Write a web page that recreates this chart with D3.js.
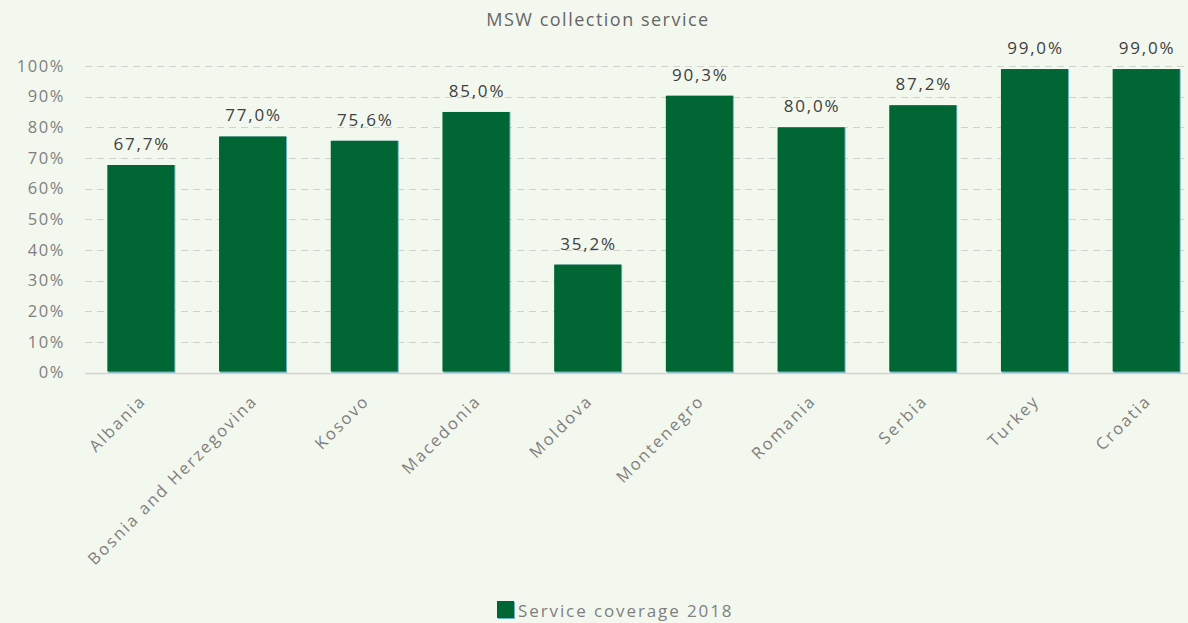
<!DOCTYPE html>
<html>
<head>
<meta charset="utf-8">
<script src="https://cdn.jsdelivr.net/npm/d3@7"></script>
<style>
  html, body { margin: 0; padding: 0; background: #f3f8ef; }
  svg { display: block; }
</style>
</head>
<body>
<svg id="chart" width="1188" height="623"></svg>
<script>
// Municipal solid waste collection coverage, 2018
const countries = ["Albania", "Bosnia and Herzegovina", "Kosovo", "Macedonia", "Moldova",
                   "Montenegro", "Romania", "Serbia", "Turkey", "Croatia"];
const coverage = [67.7, 77.0, 75.6, 85.0, 35.2, 90.3, 80.0, 87.2, 99.0, 99.0];
const yTicks = [0, 10, 20, 30, 40, 50, 60, 70, 80, 90, 100];
const title = "MSW collection service";
const seriesName = "Service coverage 2018";

const svg = d3.select("#chart");
const W = 1188, H = 623;
const font = "'Open Sans', sans-serif";
const barColor = "#006633";
const edgeColor = "#6fb2c6";
const grey = "#7f7f7f";

svg.append("rect").attr("width", W).attr("height", H).attr("fill", "#f3f8ef");

const x = d3.scaleBand().domain(countries).range([85, 1202]).paddingInner(0.4).paddingOuter(0.2);
const y = d3.scaleLinear().domain([0, 100]).range([372.5, 66]);

// horizontal gridlines
svg.append("g").selectAll("line").data(yTicks.filter(d => d > 0)).join("line")
  .attr("x1", 85).attr("x2", W)
  .attr("y1", d => Math.round(y(d)) + 0.5).attr("y2", d => Math.round(y(d)) + 0.5)
  .attr("stroke", "#d0d2ce").attr("stroke-width", 1).attr("stroke-dasharray", "7,5");

// y axis labels
const yAxis = d3.axisLeft(y).tickValues(yTicks).tickFormat(d => d + "%").tickSize(0).tickPadding(0);
const gy = svg.append("g").attr("transform", "translate(65,0)").call(yAxis);
gy.select(".domain").remove();
gy.selectAll("text").attr("font-family", font).attr("font-size", 16.5)
  .attr("letter-spacing", 1.6).attr("fill", grey);

// bars: thin light edge on the right and bottom, green fill above
const bars = svg.append("g");
bars.selectAll("rect.edge").data(countries).join("rect").attr("class", "edge")
  .attr("x", d => x(d) + 1)
  .attr("y", (d, i) => y(coverage[i]))
  .attr("width", x.bandwidth())
  .attr("height", (d, i) => y(0) - y(coverage[i]) + 0.5)
  .attr("fill", edgeColor);
bars.selectAll("rect.bar").data(countries).join("rect").attr("class", "bar")
  .attr("x", d => x(d))
  .attr("y", (d, i) => y(coverage[i]))
  .attr("width", x.bandwidth())
  .attr("height", (d, i) => y(0) - y(coverage[i]) - 1)
  .attr("fill", barColor);

// baseline
svg.append("line").attr("x1", 85).attr("x2", W)
  .attr("y1", Math.round(y(0)) + 0.5).attr("y2", Math.round(y(0)) + 0.5)
  .attr("stroke", "#d2d4d0").attr("stroke-width", 1.5);

// value labels
svg.append("g").selectAll("text").data(countries).join("text")
  .attr("x", d => x(d) + x.bandwidth() / 2 + 1)
  .attr("y", (d, i) => y(coverage[i]) - 15)
  .attr("text-anchor", "middle")
  .attr("font-family", font).attr("font-size", 17).attr("letter-spacing", 1.8)
  .attr("fill", "#404040")
  .text((d, i) => coverage[i].toFixed(1).replace(".", ",") + "%");

// category labels, rotated
const xAxis = d3.axisBottom(x).tickSize(0).tickPadding(0);
const gx = svg.append("g").call(xAxis);
gx.select(".domain").remove();
gx.selectAll(".tick").attr("transform", null);
gx.selectAll("text")
  .attr("font-family", font).attr("font-size", 16.5).attr("letter-spacing", 2.1)
  .attr("fill", grey)
  .attr("text-anchor", "end")
  .attr("dy", null).attr("y", null)
  .attr("transform", d => `translate(${x(d) + x.bandwidth() / 2 + 6},${402}) rotate(-45)`);

// title
svg.append("text").attr("x", 598).attr("y", 26).attr("text-anchor", "middle")
  .attr("font-family", font).attr("font-size", 18).attr("letter-spacing", 1.5)
  .attr("fill", "#666666")
  .text(title);

// legend
const lg = svg.append("g").attr("transform", "translate(497,601)");
lg.append("rect").attr("x", 1).attr("y", 1).attr("width", 17).attr("height", 17).attr("fill", edgeColor);
lg.append("rect").attr("width", 17).attr("height", 17).attr("fill", barColor);
lg.append("text").attr("x", 21).attr("y", 16)
  .attr("font-family", font).attr("font-size", 17).attr("letter-spacing", 1.9)
  .attr("fill", grey)
  .text(seriesName);
</script>
</body>
</html>
